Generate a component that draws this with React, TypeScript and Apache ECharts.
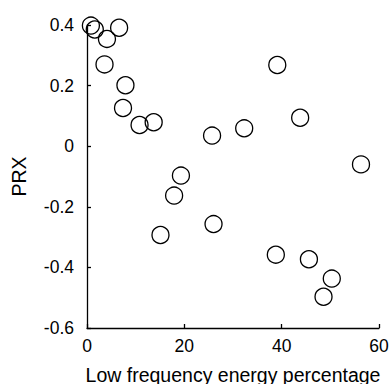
import React, { useEffect, useRef } from "react";
import * as echarts from "echarts";

const xValues = [0.8, 1.6, 4.1, 6.6, 3.6, 7.9, 7.4, 10.8, 13.7, 19.3, 17.9, 15.1, 25.7, 32.3, 39.1, 43.8, 56.3, 26.0, 38.8, 45.6, 50.3, 48.6];
const yValues = [0.398, 0.385, 0.354, 0.391, 0.27, 0.201, 0.126, 0.07, 0.079, -0.097, -0.163, -0.293, 0.035, 0.059, 0.268, 0.094, -0.06, -0.257, -0.358, -0.373, -0.437, -0.497];
const xTicks = [0, 20, 40, 60];
const yTicks = [-0.6, -0.4, -0.2, 0, 0.2, 0.4];
const xName = "Low frequency energy percentage";
const yName = "PRX";

const FONT = "'Liberation Sans', Arial, sans-serif";

export default function App() {
  const ref = useRef<HTMLDivElement>(null);
  useEffect(() => {
    if (!ref.current) return;
    const chart = echarts.init(ref.current, undefined, { renderer: "svg" });
    const data = xValues.map((x, i) => [x, yValues[i]]);
    chart.setOption({
      animation: false,
      backgroundColor: "#fff",
      grid: { left: 87, right: 11, top: 25, bottom: 56, outerBoundsMode: "none", containLabel: false },
      xAxis: {
        type: "value",
        min: xTicks[0],
        max: xTicks[xTicks.length - 1],
        interval: 20,
        name: xName,
        nameLocation: "middle",
        nameGap: 37,
        nameTextStyle: { fontFamily: FONT, fontSize: 19.5, color: "#000" },
        axisLine: { show: true, onZero: false, lineStyle: { color: "#000", width: 1.3 } },
        axisTick: { show: true, inside: true, length: 4, lineStyle: { color: "#000", width: 1.3 } },
        axisLabel: { fontFamily: FONT, fontSize: 17.5, color: "#000", margin: 9 },
        splitLine: { show: false },
      },
      yAxis: {
        type: "value",
        min: yTicks[0],
        max: yTicks[yTicks.length - 1],
        interval: 0.2,
        name: yName,
        nameLocation: "middle",
        nameGap: 58,
        nameTextStyle: { fontFamily: FONT, fontSize: 19.5, color: "#000" },
        axisLine: { show: true, onZero: false, lineStyle: { color: "#000", width: 1.3 } },
        axisTick: { show: true, inside: true, length: 4, lineStyle: { color: "#000", width: 1.3 } },
        axisLabel: {
          fontFamily: FONT,
          fontSize: 17.5,
          color: "#000",
          margin: 13,
          formatter: (v: number) => (Math.abs(v) < 1e-9 ? "0" : String(Math.round(v * 10) / 10)),
        },
        splitLine: { show: false },
      },
      series: [
        {
          type: "scatter",
          data,
          symbol: "circle",
          symbolSize: 17,
          clip: false,
          itemStyle: { color: "rgba(0,0,0,0)", borderColor: "#000", borderWidth: 1.3, opacity: 1 },
          emphasis: { disabled: true },
        },
      ],
    });
    return () => chart.dispose();
  }, []);
  return (
    <div
      ref={ref}
      style={{ position: "fixed", left: 0, top: 0, width: 390, height: 384 }}
    />
  );
}
